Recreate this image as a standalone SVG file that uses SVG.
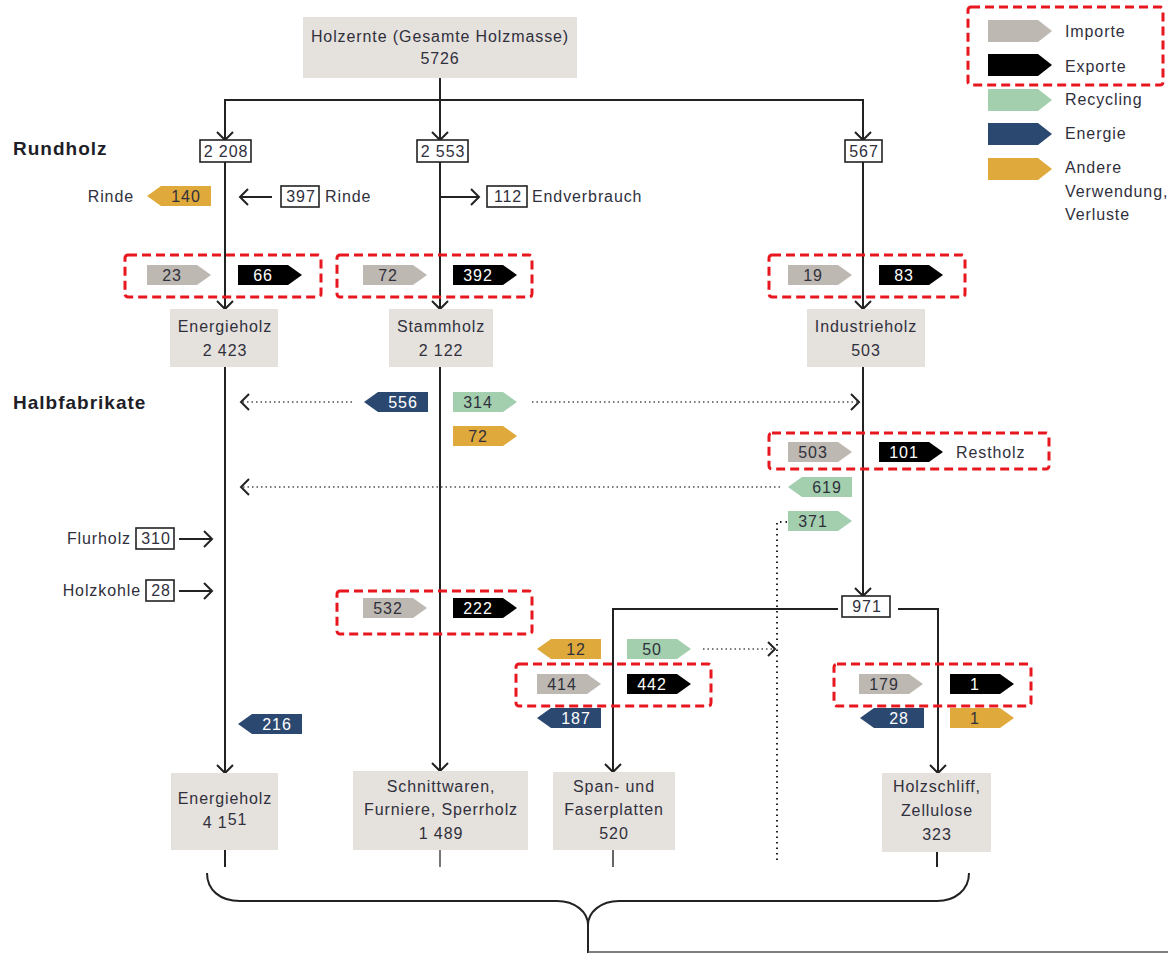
<svg xmlns="http://www.w3.org/2000/svg" xmlns:xlink="http://www.w3.org/1999/xlink" width="1168" height="953" viewBox="0 0 1168 953">
<style>
.t{font-family:"Liberation Sans",Arial,sans-serif;font-size:16px;letter-spacing:0.9px;fill:#30303c}
.c{text-anchor:middle}
.e{text-anchor:end}
.h{font-family:"Liberation Sans",Arial,sans-serif;font-weight:bold;font-size:19px;letter-spacing:1px;fill:#1e1e28}
.w{fill:#ffffff}
.box{fill:#e5e1dd}
.nb{fill:#ffffff;stroke:#222;stroke-width:1.6}
.ln{fill:none;stroke:#222;stroke-width:2}
.dot{fill:none;stroke:#7a7a7a;stroke-width:2;stroke-dasharray:1.5 3}
.dotk{fill:none;stroke:#222;stroke-width:2;stroke-dasharray:1.5 4;stroke-linecap:butt}
.red{fill:none;stroke:#e8161e;stroke-width:3;stroke-dasharray:9 5}
.gy{fill:#bdb8b1}.bk{fill:#000}.gr{fill:#a4cfae}.bl{fill:#2b4870}.or{fill:#e0a93b}
</style>
<defs>
<marker id="ah" viewBox="-10 -10 20 20" markerWidth="20" markerHeight="20" markerUnits="userSpaceOnUse" refX="0" refY="0" orient="auto">
<path d="M-8,-8 L0,0 L-8,8" fill="none" stroke="#222" stroke-width="2"/>
</marker>
<path id="tR" d="M0,-10 H50 L64,0 L50,10 H0 Z"/>
<path id="tL" d="M0,0 L14,-10 H64 V10 H14 Z"/>
<path id="tRL" d="M0,-11 H50 L64,0 L50,11 H0 Z"/>
</defs>

<g id="connectors">
<path class="ln" d="M440,78 V140" marker-end="url(#ah)"/>
<path class="ln" d="M440,100 H225 V140" marker-end="url(#ah)"/>
<path class="ln" d="M440,100 H863 V140" marker-end="url(#ah)"/>
<path class="ln" d="M225,162 V309" marker-end="url(#ah)"/>
<path class="ln" d="M440,162 V309" marker-end="url(#ah)"/>
<path class="ln" d="M863,162 V309" marker-end="url(#ah)"/>
<path class="ln" d="M225,367 V773" marker-end="url(#ah)"/>
<path class="ln" d="M440,367 V771" marker-end="url(#ah)"/>
<path class="ln" d="M863,367 V596" marker-end="url(#ah)"/>
<path class="ln" d="M838,609 H613 V772" marker-end="url(#ah)"/>
<path class="ln" d="M898,609 H938 V773" marker-end="url(#ah)"/>
<path class="ln" d="M440,197 H479" marker-end="url(#ah)"/>
<path class="ln" d="M272,197 H240" marker-end="url(#ah)"/>
<path class="ln" d="M179,539 H212" marker-end="url(#ah)"/>
<path class="ln" d="M179,591 H212" marker-end="url(#ah)"/>
<path class="ln" d="M225,850 V867"/>
<path class="ln" d="M440,850 V867" style="stroke:#777"/>
<path class="ln" d="M613,850 V867" style="stroke:#666"/>
<path class="ln" d="M937,852 V867"/>
<path class="dot" d="M352,402 H243"/>
<path class="ln" d="M249,394 L241,402 L249,410"/>
<path class="dot" d="M532,402 H857"/>
<path class="ln" d="M851,394 L859,402 L851,410"/>
<path class="dot" d="M780,487 H243"/>
<path class="ln" d="M249,479 L241,487 L249,495"/>
<path class="dot" d="M703,649 H774"/>
<path class="ln" d="M768,642 L775,649 L768,656"/>
<path class="dotk" d="M787,522 H777 V863"/>
<path class="ln" d="M207,873 C207,890 220,901 240,901 H557 C575,901 588,912 588,925 C588,912 601,901 619,901 H937 C955,901 969,890 969,873"/>
<path class="ln" d="M588,925 V953"/>
<path d="M588,952 H1168" stroke="#555" stroke-width="1.5" fill="none"/>
</g>

<g id="n-holzernte">
<rect class="box" x="303" y="17" width="274" height="61"/>
<text class="t c" x="440" y="42">Holzernte (Gesamte Holzmasse)</text>
<text class="t c" x="440" y="64">5726</text>
</g>

<text class="h" x="13" y="155">Rundholz</text>
<text class="h" x="13" y="409">Halbfabrikate</text>

<g id="n-2208"><rect class="nb" x="200" y="140" width="51" height="22"/><text class="t c" x="226" y="157">2 208</text></g>
<g id="n-2553"><rect class="nb" x="417" y="140" width="51" height="22"/><text class="t c" x="443" y="157">2 553</text></g>
<g id="n-567"><rect class="nb" x="845" y="140" width="37" height="22"/><text class="t c" x="864" y="157">567</text></g>

<g id="n-rinde">
<text class="t e" x="134" y="202">Rinde</text>
<use xlink:href="#tL" x="147" y="196" class="or"/><text class="t c" x="186" y="202">140</text>
<rect class="nb" x="281" y="186" width="38" height="21"/><text class="t c" x="301" y="202">397</text>
<text class="t" x="325" y="202">Rinde</text>
</g>
<g id="n-endverbrauch">
<rect class="nb" x="487" y="186" width="40" height="21"/><text class="t c" x="508" y="202">112</text>
<text class="t" x="532" y="202">Endverbrauch</text>
</g>

<g id="trade-1">
<rect class="red" x="125" y="255" width="196" height="42" rx="3"/>
<use xlink:href="#tR" x="147" y="275" class="gy"/><text class="t c" x="172" y="281">23</text>
<use xlink:href="#tR" x="238" y="275" class="bk"/><text class="t c w" x="263" y="281">66</text>
</g>
<g id="trade-2">
<rect class="red" x="337" y="255" width="195" height="42" rx="3"/>
<use xlink:href="#tR" x="363" y="275" class="gy"/><text class="t c" x="388" y="281">72</text>
<use xlink:href="#tR" x="453" y="275" class="bk"/><text class="t c w" x="478" y="281">392</text>
</g>
<g id="trade-3">
<rect class="red" x="769" y="255" width="196" height="42" rx="3"/>
<use xlink:href="#tR" x="788" y="275" class="gy"/><text class="t c" x="813" y="281">19</text>
<use xlink:href="#tR" x="879" y="275" class="bk"/><text class="t c w" x="904" y="281">83</text>
</g>

<g id="n-energieholz1"><rect class="box" x="170" y="309" width="108" height="58"/><text class="t c" x="225" y="332">Energieholz</text><text class="t c" x="225" y="356">2 423</text></g>
<g id="n-stammholz"><rect class="box" x="389" y="309" width="104" height="58"/><text class="t c" x="441" y="332">Stammholz</text><text class="t c" x="441" y="356">2 122</text></g>
<g id="n-industrieholz"><rect class="box" x="807" y="309" width="118" height="58"/><text class="t c" x="866" y="332">Industrieholz</text><text class="t c" x="866" y="356">503</text></g>

<g id="flows-halb">
<use xlink:href="#tL" x="364" y="402" class="bl"/><text class="t c w" x="403" y="408">556</text>
<use xlink:href="#tR" x="453" y="402" class="gr"/><text class="t c" x="478" y="408">314</text>
<use xlink:href="#tR" x="453" y="436" class="or"/><text class="t c" x="478" y="442">72</text>
<use xlink:href="#tL" x="788" y="487" class="gr"/><text class="t c" x="827" y="493">619</text>
<use xlink:href="#tR" x="788" y="521" class="gr"/><text class="t c" x="813" y="527">371</text>
</g>
<g id="trade-restholz">
<rect class="red" x="769" y="433" width="280" height="36" rx="3"/>
<use xlink:href="#tR" x="788" y="452" class="gy"/><text class="t c" x="813" y="458">503</text>
<use xlink:href="#tR" x="879" y="452" class="bk"/><text class="t c w" x="904" y="458">101</text>
<text class="t" x="956" y="458">Restholz</text>
</g>

<g id="n-flurholz"><text class="t e" x="131" y="544">Flurholz</text><rect class="nb" x="136" y="528" width="38" height="21"/><text class="t c" x="156" y="544">310</text></g>
<g id="n-holzkohle"><text class="t e" x="141" y="596">Holzkohle</text><rect class="nb" x="146" y="580" width="28" height="21"/><text class="t c" x="161" y="596">28</text></g>

<g id="trade-4">
<rect class="red" x="337" y="591" width="195" height="43" rx="3"/>
<use xlink:href="#tR" x="363" y="608" class="gy"/><text class="t c" x="388" y="614">532</text>
<use xlink:href="#tR" x="453" y="608" class="bk"/><text class="t c w" x="478" y="614">222</text>
</g>

<g id="n-971"><rect class="nb" x="842" y="596" width="48" height="21"/><text class="t c" x="867" y="612">971</text></g>

<g id="flows-span">
<use xlink:href="#tL" x="537" y="649" class="or"/><text class="t c" x="576" y="655">12</text>
<use xlink:href="#tR" x="627" y="649" class="gr"/><text class="t c" x="652" y="655">50</text>
<rect class="red" x="516" y="664" width="195" height="42" rx="3"/>
<use xlink:href="#tR" x="537" y="684" class="gy"/><text class="t c" x="562" y="690">414</text>
<use xlink:href="#tR" x="627" y="684" class="bk"/><text class="t c w" x="652" y="690">442</text>
<use xlink:href="#tL" x="537" y="718" class="bl"/><text class="t c w" x="576" y="724">187</text>
</g>
<g id="flows-zell">
<rect class="red" x="834" y="664" width="197" height="42" rx="3"/>
<use xlink:href="#tR" x="859" y="684" class="gy"/><text class="t c" x="884" y="690">179</text>
<use xlink:href="#tR" x="950" y="684" class="bk"/><text class="t c w" x="975" y="690">1</text>
<use xlink:href="#tL" x="860" y="718" class="bl"/><text class="t c w" x="899" y="724">28</text>
<use xlink:href="#tR" x="950" y="718" class="or"/><text class="t c" x="975" y="724">1</text>
</g>
<g id="flow-216"><use xlink:href="#tL" x="238" y="724" class="bl"/><text class="t c w" x="277" y="730">216</text></g>

<g id="n-energieholz2"><rect class="box" x="171" y="773" width="107" height="77"/><text class="t c" x="225" y="804">Energieholz</text><text class="t c" x="225" y="828">4 1<tspan dy="-3">51</tspan></text></g>
<g id="n-schnittwaren"><rect class="box" x="353" y="771" width="175" height="79"/><text class="t c" x="441" y="792">Schnittwaren,</text><text class="t c" x="441" y="815">Furniere, Sperrholz</text><text class="t c" x="441" y="839">1 489</text></g>
<g id="n-span"><rect class="box" x="553" y="772" width="122" height="78"/><text class="t c" x="614" y="792">Span- und</text><text class="t c" x="614" y="815">Faserplatten</text><text class="t c" x="614" y="839">520</text></g>
<g id="n-holzschliff"><rect class="box" x="882" y="773" width="109" height="79"/><text class="t c" x="937" y="792">Holzschliff,</text><text class="t c" x="937" y="816">Zellulose</text><text class="t c" x="937" y="840">323</text></g>

<g id="legend">
<rect class="red" x="968" y="7" width="195" height="78" rx="3"/>
<use xlink:href="#tRL" x="988" y="31" class="gy"/><text class="t" x="1065" y="37">Importe</text>
<use xlink:href="#tRL" x="988" y="65" class="bk"/><text class="t" x="1065" y="72">Exporte</text>
<use xlink:href="#tRL" x="988" y="100" class="gr"/><text class="t" x="1065" y="105">Recycling</text>
<use xlink:href="#tRL" x="988" y="134" class="bl"/><text class="t" x="1065" y="139">Energie</text>
<use xlink:href="#tRL" x="988" y="169" class="or"/><text class="t" x="1065" y="173">Andere</text>
<text class="t" x="1065" y="197">Verwendung,</text>
<text class="t" x="1065" y="220">Verluste</text>
</g>
</svg>
